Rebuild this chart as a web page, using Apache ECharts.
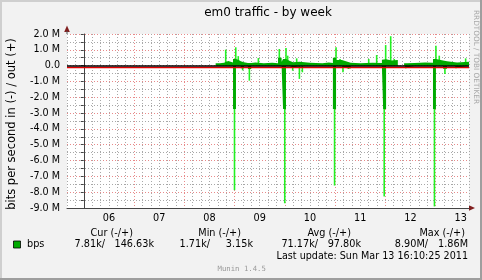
<!DOCTYPE html>
<html><head><meta charset="utf-8">
<script src="https://cdn.jsdelivr.net/npm/echarts@6/dist/echarts.min.js"></script>
<style>html,body{margin:0;padding:0;background:#f2f2f2}#c{width:482px;height:280px}</style>
</head><body><div id="c"></div>
<script>
// x values: hours since 2011-03-06 00:00 ; y values: Mbit/s (in = negative, out = positive)
const dayLabels = ['06','07','08','09','10','11','12','13'];
const dayNoonHours = [12,36,60,84,108,132,156,180];

const avgHours = [63,65,67,69,71.3,72.7,74,75,76.5,78.4,80,82,86,90,92.8,94.5,95.2,96.6,98.5,100,103,108,114,117,119,120.5,123.3,125.2,126,127.5,132,138,142.4,143,144.4,147,150,153,154.4,158,163,166.8,168.2,171.6,173.5,177.3,178.3,184];
const outAvg = [0.15,0.18,0.30,0.20,0.42,0.35,0.27,0.22,0.17,0.17,0.20,0.15,0.18,0.15,0.50,0.25,0.42,0.30,0.22,0.25,0.18,0.15,0.20,0.17,0.50,0.35,0.28,0.22,0.18,0.15,0.18,0.17,0.38,0.40,0.33,0.35,0,0.15,0.17,0.20,0.18,0.42,0.32,0.28,0.22,0.20,0.25,0.25];
const inAvg = [-0.03,-0.03,-0.03,-0.03,-2.74,-0.03,-0.03,-0.17,-0.03,-0.21,-0.03,-0.03,-0.03,-0.03,-0.03,-0.03,-2.74,-0.03,-0.12,-0.03,-0.03,-0.03,-0.03,-0.03,-2.74,-0.03,-0.15,-0.03,-0.18,-0.03,-0.03,-0.03,-0.03,-2.74,-0.03,-0.03,0,-0.10,-0.03,-0.03,-0.03,-2.74,-0.03,-0.20,-0.03,-0.10,-0.03,-0.03];

const outPeakHours = [67.8,72.6,73.8,83.4,93.4,96.6,97.4,101.7,120.5,122.4,136.1,139.9,144.2,146.6,148.3,168.2,169.8,182.4];
const outPeakValues = [1.01,1.16,0.60,0.48,1.05,1.12,0.63,0.46,1.16,0.42,0.42,0.67,1.30,1.86,0.42,1.25,0.63,0.46];
const inPeakHours = [72.0,75.9,79.1,96.0,99.8,103.0,104.4,119.8,123.8,126.4,143.5,153.8,167.5,172.5,177.8];
const inPeakValues = [-7.87,-0.30,-0.95,-8.70,-0.32,-0.84,-0.42,-7.58,-0.42,-0.21,-8.27,-0.17,-8.90,-0.53,-0.17];

const statHeaders = ['Cur (-/+)','Min (-/+)','Avg (-/+)','Max (-/+)'];
const statValues = ['7.81k/','146.63k','1.71k/','3.15k','71.17k/','97.80k','8.90M/','1.86M'];
const seriesName = 'bps';
const lastUpdate = 'Last update: Sun Mar 13 16:10:25 2011';

const DARK = '#00AA00', BRIGHT = '#22F022';
const GRIDC = '#a8a8a8', MGRIDC = '#e88a8a';
const FONT = 'DejaVu Sans';

const chart = echarts.init(document.getElementById('c'), null, {renderer:'canvas'});
const peakData = outPeakHours.map((h,i)=>[h,outPeakValues[i]]).concat(inPeakHours.map((h,i)=>[h,inPeakValues[i]]));

const headerRight = [133,241,351,465];
const valueRight = [105,154,210,253,318,361,428,468];
const graphics = [
  {type:'rect', shape:{x:0,y:0,width:482,height:2}, style:{fill:'#cfcfcf'}, silent:true},
  {type:'rect', shape:{x:0,y:0,width:2,height:280}, style:{fill:'#cfcfcf'}, silent:true},
  {type:'rect', shape:{x:0,y:278,width:482,height:2}, style:{fill:'#9e9e9e'}, silent:true},
  {type:'rect', shape:{x:480,y:0,width:2,height:280}, style:{fill:'#9e9e9e'}, silent:true},
  {type:'text', x:268, y:13, style:{text:'em0 traffic - by week', font:'12px "DejaVu Sans"', fill:'#000', align:'center', verticalAlign:'middle'}},
  {type:'text', x:12.5, y:124, rotation:Math.PI/2, style:{text:'bits per second in (-) / out (+)', font:'11.5px "DejaVu Sans"', fill:'#000', align:'center', verticalAlign:'middle'}},
  {type:'text', x:476, y:57, rotation:-Math.PI/2, style:{text:'RRDTOOL / TOBI OETIKER', font:'7.3px "DejaVu Sans"', fill:'#a8a8a8', align:'center', verticalAlign:'middle'}},
  {type:'polygon', shape:{points:[[67,25.5],[69.8,32],[64.2,32]]}, style:{fill:'#801f1f'}},
  {type:'rect', shape:{x:66.5,y:31,width:1,height:3}, style:{fill:'#555'}},
  {type:'polygon', shape:{points:[[475,208],[469,205.2],[469,210.8]]}, style:{fill:'#801f1f'}},
  {type:'rect', shape:{x:13.5,y:241,width:7,height:7}, style:{fill:DARK, stroke:'#000', lineWidth:0.8}},
  {type:'text', x:27, y:244.5, style:{text:seriesName, font:'9.7px "DejaVu Sans"', fill:'#000', align:'left', verticalAlign:'middle'}},
  {type:'text', x:468, y:256.7, style:{text:lastUpdate, font:'9.6px "DejaVu Sans"', fill:'#000', align:'right', verticalAlign:'middle'}},
  {type:'text', x:241.7, y:269.5, style:{text:'Munin 1.4.5', font:'7.3px "DejaVu Sans Mono"', fill:'#999', align:'center', verticalAlign:'middle'}}
];
statHeaders.forEach((t,i)=>graphics.push({type:'text', x:headerRight[i], y:233, style:{text:t, font:'9.7px "DejaVu Sans"', fill:'#000', align:'right', verticalAlign:'middle'}}));
statValues.forEach((t,i)=>graphics.push({type:'text', x:valueRight[i], y:244.5, style:{text:t, font:'9.7px "DejaVu Sans"', fill:'#000', align:'right', verticalAlign:'middle'}}));

chart.setOption({
  animation:false,
  backgroundColor:'#f2f2f2',
  grid:{left:67, right:13, top:34, bottom:72, show:true, backgroundColor:'#ffffff', borderWidth:0},
  xAxis:{
    type:'value', min:-8, max:184, interval:4,
    axisLine:{show:true, onZero:false, lineStyle:{color:'#444', width:1}},
    axisTick:{show:false},
    axisLabel:{margin:5, color:'#000', fontFamily:FONT, fontSize:9.7,
      formatter:v=>{const i=dayNoonHours.indexOf(v); return i>=0?dayLabels[i]:'';}},
    splitLine:{show:true, showMinLine:true, lineStyle:{color:[GRIDC,GRIDC,MGRIDC,GRIDC,GRIDC,GRIDC], type:[1,2], width:1}}
  },
  yAxis:{
    type:'value', min:-9, max:2, interval:0.5,
    axisLine:{show:true, lineStyle:{color:'#444', width:1}},
    axisTick:{show:true, length:3, lineStyle:{color:'#444'}},
    axisLabel:{margin:7, color:'#000', fontFamily:FONT, fontSize:9.6,
      formatter:v=>{ if (Math.abs(v)<1e-9) return '0.0'; if (Math.abs(v-Math.round(v))<1e-9) return v.toFixed(1)+' M'; return '';}},
    splitLine:{show:true, showMinLine:true, lineStyle:{color:[MGRIDC,GRIDC], type:[1,2], width:1}}
  },
  graphic:graphics,
  series:[
    {type:'bar', data:peakData, barWidth:1.6, itemStyle:{color:BRIGHT}, z:2, silent:true},
    {type:'line', step:'end', data:avgHours.map((h,i)=>[h,outAvg[i]]), showSymbol:false, symbol:'none',
      lineStyle:{width:0}, areaStyle:{color:DARK, opacity:1}, z:3, silent:true},
    {type:'line', step:'end', data:avgHours.map((h,i)=>[h,inAvg[i]]), showSymbol:false, symbol:'none',
      lineStyle:{width:0}, areaStyle:{color:DARK, opacity:1}, z:3, silent:true,
      markLine:{silent:true, symbol:'none', label:{show:false}, animation:false,
        lineStyle:{color:'#000', width:1.5, type:'solid', shadowColor:'#e00000', shadowOffsetY:1.5, shadowBlur:0},
        data:[{yAxis:0}]}}
  ]
});
</script></body></html>
